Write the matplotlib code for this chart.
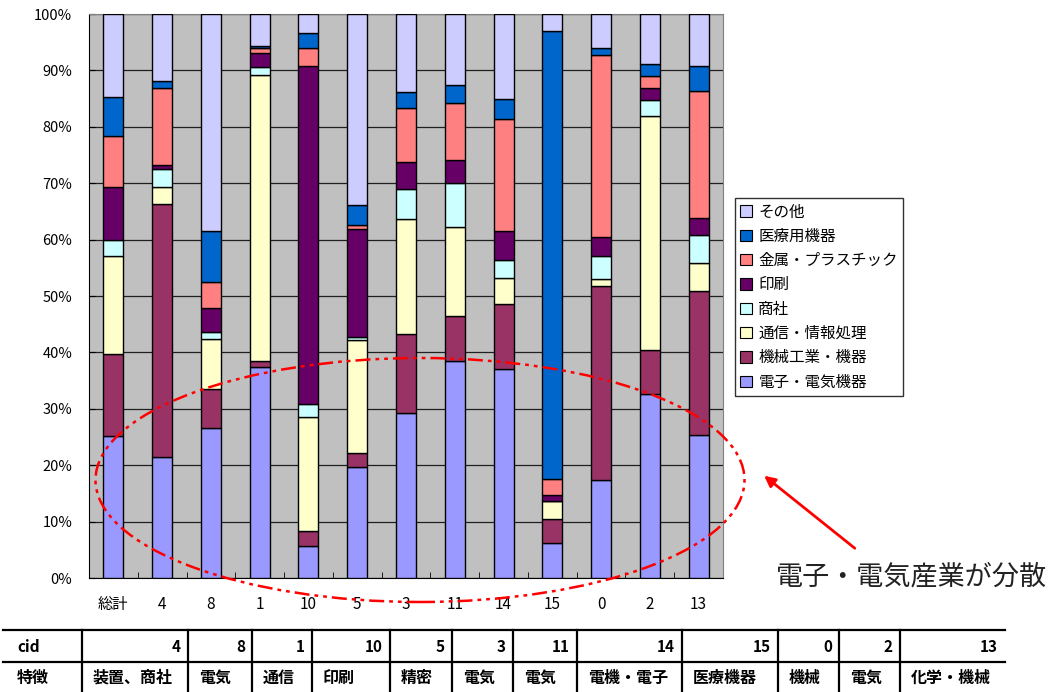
import matplotlib
matplotlib.use("Agg")
import matplotlib.pyplot as plt
import numpy as np
from matplotlib.patches import Ellipse, FancyArrowPatch, Patch
from matplotlib.ticker import FuncFormatter

plt.rcParams['font.family'] = ['Noto Sans CJK JP', 'DejaVu Sans']

# Cluster composition (% of members per industry)
categories = ["総計", "4", "8", "1", "10", "5", "3", "11", "14", "15", "0", "2", "13"]
denshi   = [25.1, 21.5, 26.6, 37.5, 5.7, 19.6, 29.2, 38.4, 37.0, 6.2, 17.4, 32.7, 25.4]
kikai    = [14.6, 44.9, 6.9, 1.0, 2.6, 2.5, 14.0, 8.1, 11.5, 4.3, 34.4, 7.7, 25.4]
tsushin  = [17.4, 3.0, 8.9, 50.7, 20.2, 20.1, 20.5, 15.7, 4.7, 3.1, 1.3, 41.6, 5.1]
shosha   = [2.9, 3.1, 1.2, 1.4, 2.4, 0.5, 5.2, 7.8, 3.1, 0.0, 4.0, 2.8, 5.0]
insatsu  = [9.4, 0.8, 4.3, 2.5, 59.8, 19.1, 4.8, 4.1, 5.3, 1.2, 3.3, 2.0, 2.9]
kinzoku  = [8.9, 13.5, 4.5, 0.8, 3.2, 0.8, 9.6, 10.2, 19.7, 2.8, 32.3, 2.2, 22.5]
iryo     = [6.9, 1.3, 9.1, 0.5, 2.8, 3.5, 2.9, 3.1, 3.6, 79.4, 1.3, 2.1, 4.4]
sonota   = [14.8, 11.9, 38.5, 5.6, 3.3, 33.9, 13.8, 12.6, 15.1, 3.0, 6.0, 8.9, 9.3]

series_names = ["電子・電気機器", "機械工業・機器", "通信・情報処理", "商社",
                "印刷", "金属・プラスチック", "医療用機器", "その他"]
series_vals = [denshi, kikai, tsushin, shosha, insatsu, kinzoku, iryo, sonota]
series_colors = ["#9999FF", "#993366", "#FFFFCC", "#CCFFFF",
                 "#660066", "#FF8080", "#0066CC", "#CCCCFF"]

# Table under the chart
table_cids = ["4", "8", "1", "10", "5", "3", "11", "14", "15", "0", "2", "13"]
table_feats = ["装置、商社", "電気", "通信", "印刷", "精密", "電気", "電気",
               "電機・電子", "医療機器", "機械", "電気", "化学・機械"]

W, H = 1057, 692
fig = plt.figure(figsize=(W / 100, H / 100), dpi=100)
ax = fig.add_axes([89 / W, 1 - 578 / H, (723 - 89) / W, (578 - 14) / H])
ax.set_facecolor("#C0C0C0")

x = np.arange(len(categories))
bottom = np.zeros(len(categories))
for name, vals, col in zip(series_names, series_vals, series_colors):
    v = np.array(vals)
    ax.bar(x, v, bottom=bottom, width=0.41, color=col, edgecolor="black",
           linewidth=1.0, label=name, zorder=3)
    bottom += v

ax.set_xlim(-0.5, len(categories) - 0.5)
ax.set_ylim(0, 100)
ax.set_yticks(np.arange(0, 101, 10))
ax.yaxis.set_major_formatter(FuncFormatter(lambda v, p: f"{int(v)}%"))
ax.grid(axis="y", color="#202020", linewidth=0.9, zorder=1)
ax.set_axisbelow(True)
ax.set_xticks(x)
ax.set_xticklabels(categories, fontsize=11)
ax.set_xticks(np.arange(0.5, len(categories) - 0.5, 1), minor=True)
ax.tick_params(axis="x", which="major", length=0, pad=13)
ax.tick_params(axis="x", which="minor", direction="in", length=4, color="black")
ax.tick_params(axis="y", direction="in", length=4, labelsize=10.5, pad=12)
for s in ["top", "right"]:
    ax.spines[s].set_color("#808080")
ax.spines["left"].set_color("black")
ax.spines["bottom"].set_color("black")

# Legend (top entry first = その他)
handles = [Patch(facecolor=c, edgecolor="black", linewidth=0.8)
           for c in series_colors][::-1]
leg = fig.legend(handles, series_names[::-1], loc="upper left",
                 bbox_to_anchor=(735 / W, 1 - 198 / H), borderaxespad=0,
                 frameon=True, fancybox=False, edgecolor="black",
                 fontsize=11.2, handlelength=0.75, handleheight=0.75,
                 handletextpad=0.4, labelspacing=0.47, borderpad=0.35)
leg.get_frame().set_linewidth(1.0)

# Highlight ellipse and annotation
ell = Ellipse((420 / 100, (H - 480) / 100), 6.49, 2.44,
              transform=fig.dpi_scale_trans, fill=False, edgecolor="red",
              linestyle=(0, (6, 2, 1.5, 2, 1.5, 2)), linewidth=1.8,
              clip_on=False, zorder=10)
fig.add_artist(ell)
arr = FancyArrowPatch((857 / 100, (H - 550) / 100), (762 / 100, (H - 474) / 100),
                      transform=fig.dpi_scale_trans, arrowstyle="-|>",
                      mutation_scale=16, color="red", linewidth=2)
fig.add_artist(arr)
fig.text(912 / W, 1 - 577 / H, "電子・電気産業が分散", fontsize=19.5,
         ha="center", va="center", color="#222222")

# Table drawn with lines and text
col_edges = [3, 82, 188, 252, 312, 390, 452, 513, 577, 682, 778, 839, 900, 1005]
y_top, y_mid, y_bot = 630, 662, 692
fy = lambda yp: 1 - yp / H
fx = lambda xp: xp / W
for yy in (y_top, y_mid):
    fig.add_artist(plt.Line2D([fx(col_edges[0]), fx(col_edges[-1])], [fy(yy), fy(yy)],
                              transform=fig.transFigure, color="black", linewidth=1.6))
for xe in col_edges[1:-1]:
    fig.add_artist(plt.Line2D([fx(xe), fx(xe)], [fy(y_top), fy(y_bot)],
                              transform=fig.transFigure, color="black", linewidth=1.6))
row1_y = fy((y_top + y_mid) / 2 + 1)
row2_y = fy((y_mid + y_bot) / 2 + 1)
fig.text(fx(17), row1_y, "cid", fontsize=11, fontweight="bold", ha="left", va="center")
fig.text(fx(17), row2_y, "特徴", fontsize=11.5, fontweight="bold", ha="left", va="center")
for i, (c, f) in enumerate(zip(table_cids, table_feats)):
    left, right = col_edges[i + 1], col_edges[i + 2]
    fig.text(fx(right - 7), row1_y, c, fontsize=11, fontweight="bold",
             ha="right", va="center")
    fig.text(fx(left + 11), row2_y, f, fontsize=11.5, fontweight="bold",
             ha="left", va="center")

fig.savefig("out.png", dpi=100)
